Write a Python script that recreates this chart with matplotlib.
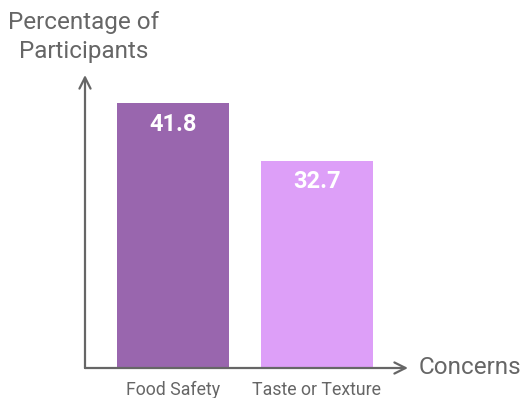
import matplotlib.pyplot as plt

plt.rcParams['font.family'] = ['Roboto', 'DejaVu Sans']

concerns = ['Food Safety', 'Taste or Texture']
percentages = [41.8, 32.7]
colors = ['#9966ae', '#dd9ff8']
text_gray = '#666666'

fig = plt.figure(figsize=(5.22, 3.98), dpi=100)
ax = fig.add_axes([85 / 522, 30 / 398, 323 / 522, 293 / 398])

pos = range(len(concerns))
ax.bar(pos, percentages, width=0.778, color=colors)
for x, v in zip(pos, percentages):
    ax.text(x, v - 1.5, f'{v}', ha='center', va='top', color='white',
            fontsize=17, fontweight='bold')
    ax.text(x, -2.0, concerns[x], ha='center', va='top', color=text_gray,
            fontsize=12.8)

ax.set_xlim(-0.611, 1.632)
ax.set_ylim(0, 46.25)
ax.axis('off')

# axis arrows
arrow = dict(arrowstyle='->', color=text_gray, lw=1.6, mutation_scale=20,
             shrinkA=0, shrinkB=0)
ax.annotate('', xy=(0, 1), xytext=(0, 0), xycoords='axes fraction',
            arrowprops=arrow)
ax.annotate('', xy=(1, 0), xytext=(0, 0), xycoords='axes fraction',
            arrowprops=arrow)

fig.text(84 / 522, 1 - 37 / 398, 'Percentage of\nParticipants', ha='center',
         va='center', color=text_gray, fontsize=17.5, linespacing=1.3)
fig.text(419 / 522, 1 - 368 / 398, 'Concerns', ha='left', va='center',
         color=text_gray, fontsize=17.5)

fig.savefig('out.png', dpi=100)
